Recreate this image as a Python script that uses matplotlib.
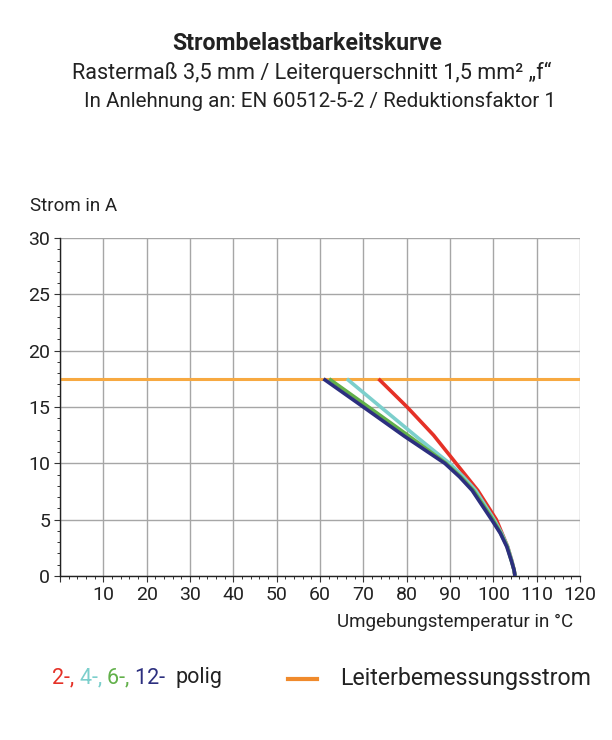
import matplotlib
matplotlib.use("Agg")
import matplotlib.pyplot as plt
from matplotlib.ticker import MultipleLocator

plt.rcParams["font.family"] = ["Roboto", "DejaVu Sans"]

# Lesewerte aus dem Diagramm (Temperatur in °C, Strom in A)
temp_2 = [73.5, 80.1, 86.2, 91.4, 96.4, 100.7, 103.3, 104.3, 104.8, 105.0]
strom_2 = [17.5, 15.0, 12.5, 10.0, 7.6, 5.0, 2.6, 1.3, 0.5, 0.0]

temp_4 = [66.2, 74.0, 82.8, 89.9, 93.1, 95.9, 100.2, 101.9, 103.3, 104.3, 104.8, 105.0]
strom_4 = [17.5, 15.0, 12.2, 10.0, 8.8, 7.6, 5.0, 3.8, 2.6, 1.3, 0.5, 0.0]

temp_6 = [62.1, 71.2, 80.6, 89.1, 92.5, 95.4, 99.9, 101.7, 103.2, 104.2, 104.8, 105.0]
strom_6 = [17.5, 15.0, 12.4, 10.0, 8.8, 7.6, 5.0, 3.8, 2.6, 1.3, 0.5, 0.0]

temp_12 = [60.8, 70.0, 79.5, 88.8, 92.2, 95.1, 99.6, 101.6, 103.1, 104.2, 104.8, 105.0]
strom_12 = [17.5, 15.0, 12.4, 10.0, 8.8, 7.6, 5.0, 3.8, 2.6, 1.3, 0.5, 0.0]

bemessungsstrom = 17.5
x_ticks = list(range(0, 121, 10))
x_labels = [""] + [str(t) for t in x_ticks[1:]]
y_ticks = list(range(0, 31, 5))

farben = {
    "2": "#e53127",
    "4": "#7ccfcc",
    "6": "#62b04a",
    "12": "#2c2f7f",
}
orange = "#f7a941"

fig = plt.figure(figsize=(6.12, 7.40), dpi=100)
ax = fig.add_axes([60 / 612, 164 / 740, 520 / 612, 338 / 740])

ax.plot([0, 120], [bemessungsstrom, bemessungsstrom], color=orange, lw=2.2, zorder=2)
for temp, strom, key, z in [(temp_2, strom_2, "2", 3), (temp_4, strom_4, "4", 4),
                            (temp_6, strom_6, "6", 5), (temp_12, strom_12, "12", 6)]:
    ax.plot(temp, strom, color=farben[key], lw=2.6, zorder=z,
            solid_capstyle="butt", solid_joinstyle="round")

ax.set_xlim(0, 120)
ax.set_ylim(0, 30)
ax.set_xticks(x_ticks)
ax.set_xticklabels(x_labels)
ax.set_yticks(y_ticks)
ax.xaxis.set_minor_locator(MultipleLocator(2))
ax.yaxis.set_minor_locator(MultipleLocator(1))
ax.grid(True, which="major", color="#a6a6a6", lw=1.0, zorder=1)
ax.tick_params(which="both", direction="out", color="#333333", labelsize=14, labelcolor="#222222")
ax.tick_params(which="major", length=4, width=0.8, pad=3)
ax.tick_params(which="minor", length=2.5, width=0.7)
for s in ["top", "right"]:
    ax.spines[s].set_visible(False)
for s in ["left", "bottom"]:
    ax.spines[s].set_color("#222222")
    ax.spines[s].set_linewidth(1.0)

fig.text(30 / 612, 1 - 206 / 740, "Strom in A", fontsize=13.5, va="center", ha="left", color="#222222")
fig.text(573 / 612, 1 - 622 / 740, "Umgebungstemperatur in °C", fontsize=13.5, va="center",
         ha="right", color="#222222")

fig.text(307 / 612, 1 - 43 / 740, "Strombelastbarkeitskurve", fontsize=16.7, fontweight="bold",
         ha="center", va="center", color="#222222")
fig.text(312 / 612, 1 - 73 / 740, "Rastermaß 3,5 mm / Leiterquerschnitt 1,5 mm² „f“", fontsize=15.6,
         ha="center", va="center", color="#222222")
fig.text(319.5 / 612, 1 - 101 / 740, "In Anlehnung an: EN 60512-5-2 / Reduktionsfaktor 1", fontsize=14.8,
         ha="center", va="center", color="#222222")

# Legende: farbige Teile hintereinander
renderer = fig.canvas.get_renderer()
x_px = 52
teile = [("2-, ", farben["2"]), ("4-, ", farben["4"]), ("6-, ", farben["6"]),
         ("12-  ", farben["12"]), ("polig", "#222222")]
for txt, col in teile:
    t = fig.text(x_px / 612, 1 - 678 / 740, txt, fontsize=15.5, color=col, ha="left", va="center")
    bb = t.get_window_extent(renderer=renderer)
    x_px += bb.width

fig.add_artist(plt.Line2D([288 / 612, 317 / 612], [1 - 679 / 740, 1 - 679 / 740],
                          color="#f08a2c", lw=3))
fig.text(340 / 612, 1 - 678 / 740, "Leiterbemessungsstrom", fontsize=16.7, ha="left",
         va="center", color="#222222")

fig.savefig("out.png", dpi=100)
